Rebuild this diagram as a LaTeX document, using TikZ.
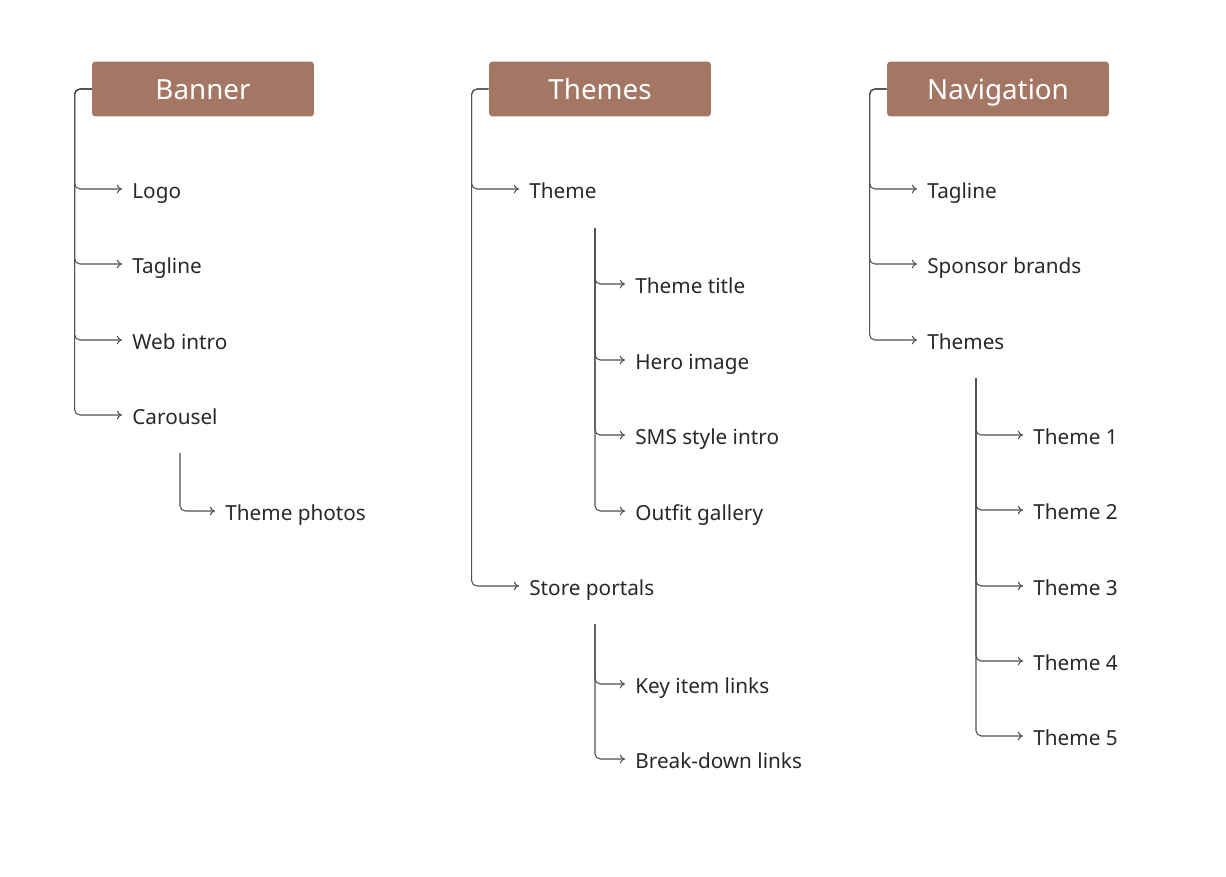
\documentclass[tikz,border=0pt]{standalone}
\usepackage{fontspec}
\setmainfont{Noto Sans}
\usetikzlibrary{arrows.meta}
\definecolor{boxbrown}{RGB}{164,119,100}
\definecolor{linegray}{RGB}{80,80,80}
\definecolor{textgray}{RGB}{40,40,40}

\tikzset{
  header/.style={fill=boxbrown, rounded corners=2pt, minimum width=4.44cm, minimum height=1.1cm, text=white, text height=2.25ex, text depth=0pt, inner ysep=0pt, font=\fontsize{15.8}{18}\selectfont},
  item/.style={anchor=west, inner xsep=0.2cm, inner ysep=0pt, text height=2ex, text depth=0pt, text=textgray, font=\fontsize{11.8}{14}\selectfont},
  conn/.style={draw=linegray, line width=0.6pt, rounded corners=3pt, -{To[length=3pt,width=5pt]}}
}

\begin{document}
\begin{tikzpicture}[x=0.02cm, y=-0.02cm]
\useasboundingbox (0,0) rectangle (1226,876);

%headers
\node[header] (banner) at (203,89) {Banner};
\node[header] (themes) at (600,89) {Themes};
\node[header] (navigation) at (998,89) {Navigation};

%banner column
\node[item] (logo) at (122,189) {Logo};
\node[item] (tagA) at (122,264) {Tagline};
\node[item] (intro) at (122,340) {Web intro};
\node[item] (carousel) at (122,415) {Carousel};
\node[item] (photos) at (215,511) {Theme photos};
\foreach \n in {logo,tagA,intro,carousel}
  \draw[conn] (banner.west) -- ++(-17,0) |- (\n.west);
\coordinate (carsub) at (180,453);
\draw[conn] (carsub) |- (photos.west);

%themes column
\node[item] (theme) at (519,189) {Theme};
\node[item] (portals) at (519,586) {Store portals};
\node[item] (ttitle) at (625,284) {Theme title};
\node[item] (hero) at (625,360) {Hero image};
\node[item] (sms) at (625,435) {SMS style intro};
\node[item] (gallery) at (625,511) {Outfit gallery};
\node[item] (keylinks) at (625,684) {Key item links};
\node[item] (breaklinks) at (625,759) {Break-down links};
\foreach \n in {theme,portals}
  \draw[conn] (themes.west) -- ++(-17,0) |- (\n.west);
\coordinate (themesub) at (595,228);
\foreach \n in {ttitle,hero,sms,gallery}
  \draw[conn] (themesub) |- (\n.west);
\coordinate (portalsub) at (595,624);
\foreach \n in {keylinks,breaklinks}
  \draw[conn] (portalsub) |- (\n.west);

%navigation column
\node[item] (tagB) at (917,189) {Tagline};
\node[item] (sponsors) at (917,264) {Sponsor brands};
\node[item] (navthemes) at (917,340) {Themes};
\foreach \n in {tagB,sponsors,navthemes}
  \draw[conn] (navigation.west) -- ++(-17,0) |- (\n.west);
\foreach \i/\y in {1/435,2/510,3/586,4/661,5/736}
  \node[item] (th\i) at (1023,\y) {Theme \i};
\coordinate (navsub) at (976,378);
\foreach \i in {1,...,5}
  \draw[conn] (navsub) |- (th\i.west);

\end{tikzpicture}
\end{document}
